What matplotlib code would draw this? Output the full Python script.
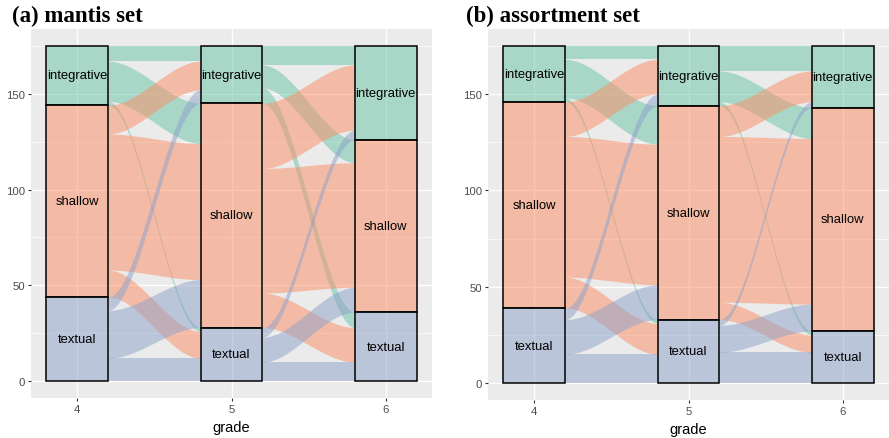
import numpy as np
import matplotlib
matplotlib.use("Agg")
import matplotlib.pyplot as plt
from matplotlib.patches import Rectangle

grades = [4, 5, 6]
strata = ["integrative", "shallow", "textual"]   # stacked top -> bottom
colors = ["#66C2A5", "#FC8D62", "#8DA0CB"]       # Set2

# flows[i][j] = count moving from stratum i (grade g) to stratum j (grade g+1)
mantis_4to5 = [[8, 21, 2], [15, 71, 14], [7, 25, 12]]
mantis_5to6 = [[10, 12, 8], [34, 65, 18], [5, 13, 10]]
assort_4to5 = [[7, 20, 2], [18, 73, 16], [6, 18, 15]]
assort_5to6 = [[13, 16, 2], [16, 86, 9], [3, 14, 16]]

W = 0.4
FIG_W, FIG_H = 889, 439


def bottoms(counts):
    b, y = {}, 0
    for k in reversed(range(len(counts))):
        b[k] = y; y += counts[k]
    return b


def draw_flows(ax, g0, g1, F):
    F = np.array(F)
    bl, br = bottoms(F.sum(1)), bottoms(F.sum(0))
    x0, x1 = g0 + W / 2, g1 - W / 2
    t = np.linspace(0, 1, 120)
    s = 3 * t**2 - 2 * t**3
    xs = x0 + (x1 - x0) * t
    for i in range(3):
        for j in range(3):
            if F[i, j] == 0:
                continue
            lo0 = bl[i] + F[i, j + 1:].sum()
            lo1 = br[j] + F[i + 1:, j].sum()
            lo = lo0 + (lo1 - lo0) * s
            ax.fill_between(xs, lo, lo + F[i, j], color=colors[i], alpha=0.5, lw=0)


def draw_strata(ax, g, counts):
    b = bottoms(counts)
    for k, name in enumerate(strata):
        ax.add_patch(Rectangle((g - W / 2, b[k]), W, counts[k], fc=colors[k], alpha=0.5, lw=0))
        ax.add_patch(Rectangle((g - W / 2, b[k]), W, counts[k], fc="none", ec="black", lw=1.1))
        ax.text(g, b[k] + counts[k] / 2, name, ha="center", va="center",
                fontsize=9.4, family="Liberation Sans", color="black")


def panel(box, f1, f2, title, tx):
    l, r, top, bot = box
    ax = fig.add_axes([l / FIG_W, 1 - bot / FIG_H, (r - l) / FIG_W, (bot - top) / FIG_H])
    ax.set_facecolor("#EBEBEB")
    for sp in ax.spines.values():
        sp.set_visible(False)
    ax.set_xlim(3.7, 6.3); ax.set_ylim(-8.75, 183.75)
    for y in [25, 75, 125, 175]:
        ax.axhline(y, color="white", lw=0.5, zorder=0)
    for y in [0, 50, 100, 150]:
        ax.axhline(y, color="white", lw=1.0, zorder=0)
    for g in grades:
        ax.axvline(g, color="white", lw=1.0, zorder=0)
    draw_flows(ax, 4, 5, f1)
    draw_flows(ax, 5, 6, f2)
    draw_strata(ax, 4, np.sum(f1, 1))
    draw_strata(ax, 5, np.sum(f2, 1))
    draw_strata(ax, 6, np.sum(f2, 0))
    ax.set_xticks(grades); ax.set_yticks([0, 50, 100, 150])
    ax.tick_params(length=2.5, width=0.8, color="#333333", labelcolor="#4D4D4D",
                   labelsize=8.2, pad=2)
    for lab in ax.get_xticklabels() + ax.get_yticklabels():
        lab.set_family("Liberation Sans")
    ax.set_xlabel("grade", fontsize=10.5, family="Liberation Sans", labelpad=4.5)
    fig.text(tx / FIG_W, 1 - 22 / FIG_H, title, fontsize=16.5, fontweight="bold",
             family="Liberation Serif", va="baseline", ha="left")
    return ax


fig = plt.figure(figsize=(FIG_W / 100, FIG_H / 100), dpi=100)
panel((31, 432, 30, 399), mantis_4to5, mantis_5to6, "(a) mantis set", 12)
panel((488, 889, 30, 401), assort_4to5, assort_5to6, "(b) assortment set", 466)
fig.savefig("out.png", dpi=100)
